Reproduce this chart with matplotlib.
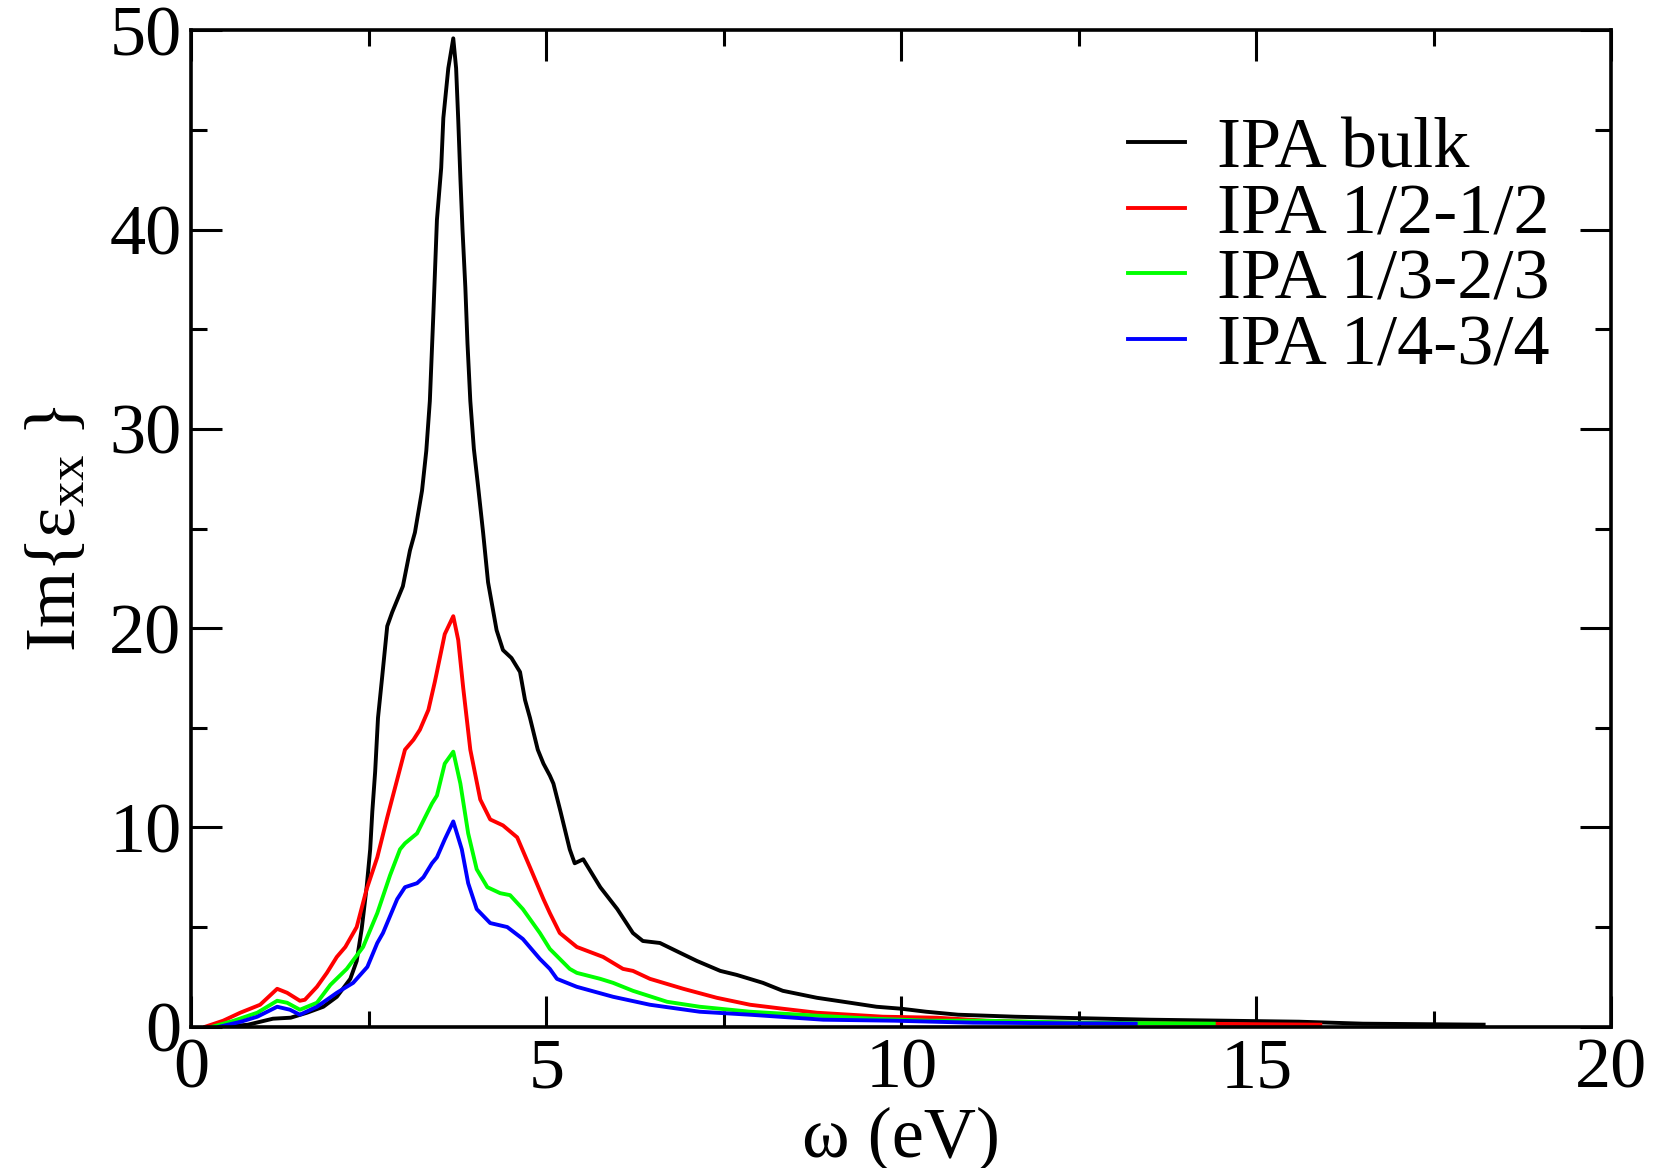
import numpy as np
import matplotlib
matplotlib.use("Agg")
import matplotlib.pyplot as plt
from matplotlib.ticker import MultipleLocator

# Im{eps_xx}, omega in eV
bulk_w = [0.5, 0.8, 1.15, 1.4, 1.63, 1.86, 2.05, 2.24, 2.33, 2.40,
          2.47, 2.52, 2.55, 2.59, 2.63, 2.69, 2.76, 2.83, 2.98, 3.08,
          3.15, 3.25, 3.31, 3.36, 3.41, 3.46, 3.52, 3.55, 3.62, 3.69,
          3.73, 3.76, 3.79, 3.82, 3.86, 3.89, 3.93, 3.98, 4.04, 4.11,
          4.18, 4.30, 4.39, 4.51, 4.63, 4.70, 4.77, 4.88, 4.96, 5.05,
          5.10, 5.20, 5.33, 5.40, 5.52, 5.76, 6.0, 6.22, 6.36, 6.6,
          6.83, 7.12, 7.45, 7.68, 8.05, 8.33, 8.81, 9.28, 9.65, 10.0,
          10.35, 10.8, 11.6, 12.2, 13.5, 15.6, 16.5, 18.2]
bulk_eps = [0.0, 0.1, 0.4, 0.45, 0.7, 1.0, 1.5, 2.4, 3.3, 4.9,
            7.0, 8.9, 10.8, 12.8, 15.5, 17.6, 20.1, 20.8, 22.1, 23.9,
            24.8, 26.9, 28.9, 31.4, 35.8, 40.5, 43.1, 45.6, 48.1, 49.6,
            48.1, 45.5, 42.6, 40.0, 37.1, 34.3, 31.4, 29.0, 27.1, 24.8,
            22.3, 19.9, 18.9, 18.5, 17.8, 16.4, 15.5, 13.9, 13.2, 12.6,
            12.2, 10.8, 8.9, 8.2, 8.4, 7.0, 5.9, 4.7, 4.3, 4.2,
            3.8, 3.3, 2.8, 2.6, 2.2, 1.8, 1.45, 1.2, 1.0, 0.9,
            0.75, 0.6, 0.5, 0.45, 0.35, 0.25, 0.15, 0.1]

half_w = [0.2, 0.45, 0.69, 0.97, 1.21, 1.35, 1.53, 1.6, 1.77, 1.91,
          2.05, 2.17, 2.33, 2.47, 2.62, 2.76, 2.90, 3.01, 3.13, 3.22,
          3.34, 3.43, 3.57, 3.69, 3.76, 3.83, 3.93, 4.07, 4.21, 4.39,
          4.59, 4.77, 4.96, 5.05, 5.19, 5.43, 5.80, 6.08, 6.22, 6.46,
          6.93, 7.4, 7.87, 8.33, 8.81, 9.74, 10.5, 11.2, 12.2, 14.0, 15.9]
half_eps = [0.0, 0.3, 0.7, 1.1, 1.9, 1.7, 1.3, 1.35, 2.0, 2.7,
            3.5, 4.0, 5.0, 6.9, 8.5, 10.5, 12.4, 13.9, 14.4, 14.9,
            15.9, 17.3, 19.7, 20.6, 19.4, 17.0, 13.9, 11.4, 10.4, 10.1,
            9.5, 8.0, 6.4, 5.7, 4.7, 4.0, 3.5, 2.9, 2.8, 2.4,
            1.9, 1.45, 1.1, 0.9, 0.7, 0.5, 0.45, 0.3, 0.2, 0.15, 0.1]

third_w = [0.3, 0.6, 0.93, 1.21, 1.35, 1.53, 1.77, 1.96, 2.19, 2.42,
           2.62, 2.80, 2.94, 3.01, 3.18, 3.39, 3.46, 3.57, 3.69, 3.79,
           3.90, 4.02, 4.17, 4.35, 4.49, 4.67, 4.91, 5.05, 5.19, 5.33,
           5.43, 5.76, 5.94, 6.22, 6.70, 7.16, 7.87, 8.81, 9.6, 10.4,
           11.1, 12.5, 14.4]
third_eps = [0.0, 0.3, 0.7, 1.3, 1.2, 0.85, 1.2, 2.1, 2.9, 4.0,
             5.7, 7.6, 8.9, 9.2, 9.7, 11.2, 11.6, 13.2, 13.8, 12.2,
             9.7, 7.9, 7.0, 6.7, 6.6, 5.9, 4.7, 3.9, 3.4, 2.9,
             2.7, 2.4, 2.2, 1.8, 1.25, 1.0, 0.75, 0.55, 0.4, 0.3,
             0.3, 0.2, 0.15]

quarter_w = [0.4, 0.7, 0.93, 1.21, 1.39, 1.53, 1.77, 2.05, 2.28, 2.48,
             2.62, 2.70, 2.90, 3.01, 3.18, 3.27, 3.39, 3.46, 3.57, 3.69,
             3.81, 3.90, 4.02, 4.21, 4.45, 4.67, 4.91, 5.05, 5.15, 5.43,
             5.94, 6.46, 7.16, 7.87, 8.9, 9.9, 11.0, 13.3]
quarter_eps = [0.0, 0.25, 0.5, 1.0, 0.85, 0.6, 1.0, 1.7, 2.2, 3.0,
               4.2, 4.7, 6.4, 7.0, 7.2, 7.5, 8.2, 8.5, 9.4, 10.3,
               8.9, 7.2, 5.9, 5.2, 5.0, 4.4, 3.4, 2.9, 2.4, 2.0,
               1.5, 1.1, 0.75, 0.6, 0.35, 0.3, 0.2, 0.15]

labels = ["IPA bulk", "IPA 1/2-1/2", "IPA 1/3-2/3", "IPA 1/4-3/4"]
colors = ["#000000", "#ff0000", "#00ff00", "#0000ff"]

plt.rcParams['font.family'] = ['Liberation Serif', 'DejaVu Serif']
plt.rcParams['mathtext.fontset'] = 'custom'
plt.rcParams['mathtext.rm'] = 'Liberation Serif'
plt.rcParams['mathtext.it'] = 'Liberation Serif:italic'

FS = 52

fig = plt.figure(figsize=(16.63, 11.68), dpi=100)
ax = fig.add_axes([0.115, 0.121, 0.854, 0.853])

series = [(bulk_w, bulk_eps), (half_w, half_eps),
          (third_w, third_eps), (quarter_w, quarter_eps)]
for (w, eps), lab, col in zip(series, labels, colors):
    ax.plot(w, eps, color=col, linewidth=2.8, label=lab)

ax.set_xlim(0, 20)
ax.set_ylim(0, 50)
ax.xaxis.set_major_locator(MultipleLocator(5))
ax.xaxis.set_minor_locator(MultipleLocator(2.5))
ax.yaxis.set_major_locator(MultipleLocator(10))
ax.yaxis.set_minor_locator(MultipleLocator(5))
ax.tick_params(which='both', direction='in', top=True, right=True,
               width=2.2, labelsize=FS)
ax.tick_params(which='major', length=22)
ax.tick_params(which='minor', length=11.5)
ax.tick_params(axis='x', pad=8)
ax.tick_params(axis='y', pad=7)
for sp in ax.spines.values():
    sp.set_linewidth(2.6)

ax.set_xlabel("ω (eV)", fontsize=FS, labelpad=3)
ax.set_ylabel(r"Im{ε$_{\mathrm{xx}}$ }", fontsize=FS, labelpad=14)

leg = ax.legend(loc='upper right', bbox_to_anchor=(0.977, 0.942), frameon=False,
                fontsize=FS, handlelength=0.78, handletextpad=0.45,
                labelspacing=0.0, borderaxespad=0)

fig.savefig("out.png", dpi=100)
